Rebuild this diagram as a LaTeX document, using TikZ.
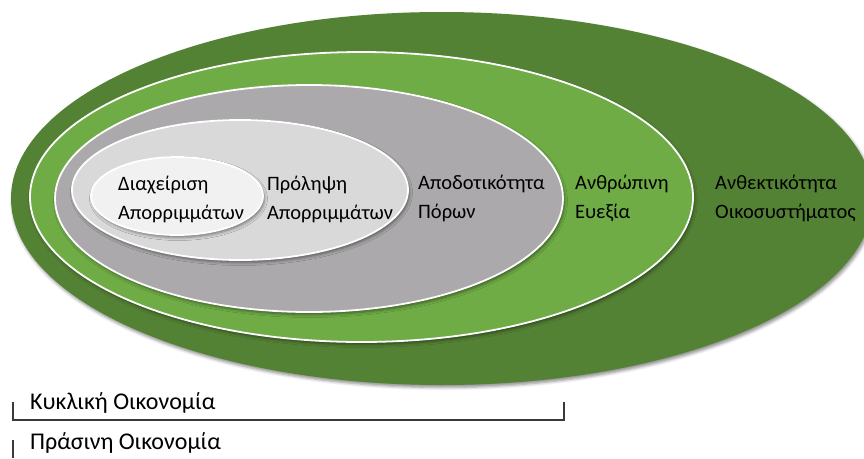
\documentclass[tikz,border=0pt]{standalone}
\usepackage{fontspec}
\setmainfont{Carlito}
\usetikzlibrary{shapes.geometric,shadows.blur}
\definecolor{dkgreen}{HTML}{548235}
\definecolor{ltgreen}{HTML}{6FAC46}
\definecolor{midgray}{HTML}{ABA9AB}
\definecolor{ltgray}{HTML}{D9D9D9}
\definecolor{palegray}{HTML}{F1F1F1}
\definecolor{rulecol}{HTML}{3A3A3A}
\begin{document}
\begin{tikzpicture}[x=1pt,y=-1pt,
  ring/.style={ellipse, inner sep=0pt, outer sep=0pt, draw=white, line width=1.8pt,
    blur shadow={shadow xshift=1.5pt, shadow yshift=-2.5pt, shadow blur radius=3pt, shadow opacity=45}},
  lbl/.style={anchor=west, align=left, font=\fontsize{20.5}{29}\selectfont, inner sep=0pt, text=black},
  captxt/.style={anchor=west, inner sep=0pt, font=\fontsize{24}{26}\selectfont, text=black},
  brk/.style={draw=rulecol, line width=1.1pt}]
\useasboundingbox (0,0) rectangle (864,458);
\begin{scope}
\clip (0,0) rectangle (864,458);
\node[ring, draw=none, fill=dkgreen, minimum width=862pt, minimum height=373pt] (eco) at (442,198.5) {};
\node[ring, fill=ltgreen, minimum width=663pt, minimum height=290pt] (hum) at (361.5,197) {};
\node[ring, fill=midgray, minimum width=508pt, minimum height=227pt] (res) at (309,198.5) {};
\node[ring, fill=ltgray, minimum width=336pt, minimum height=140pt] (prev) at (240,190) {};
\node[ring, fill=palegray, minimum width=172pt, minimum height=78pt] (mgmt) at (177,196) {};
\end{scope}
\node[lbl] (t1) at (118,199) {Διαχείριση\\Απορριμμάτων};
\node[lbl] (t2) at (267,199) {Πρόληψη\\Απορριμμάτων};
\node[lbl] (t3) at (418,198) {Αποδοτικότητα\\Πόρων};
\node[lbl] (t4) at (575,198) {Ανθρώπινη\\Ευεξία};
\node[lbl] (t5) at (715,198) {Ανθεκτικότητα\\Οικοσυστήματος};
\node[captxt] (c1) at (30,403) {Κυκλική Οικονομία};
\node[captxt] (c2) at (30,443) {Πράσινη Οικονομία};
\coordinate (a1) at (13,402);
\coordinate (a2) at (13,420);
\coordinate (a3) at (564,420);
\coordinate (a4) at (564,402);
\coordinate (b1) at (13,440);
\coordinate (b2) at (13,458);
\draw[brk] (a1) -- (a2) -- (a3) -- (a4);
\draw[brk] (b1) -- (b2);
\end{tikzpicture}
\end{document}
